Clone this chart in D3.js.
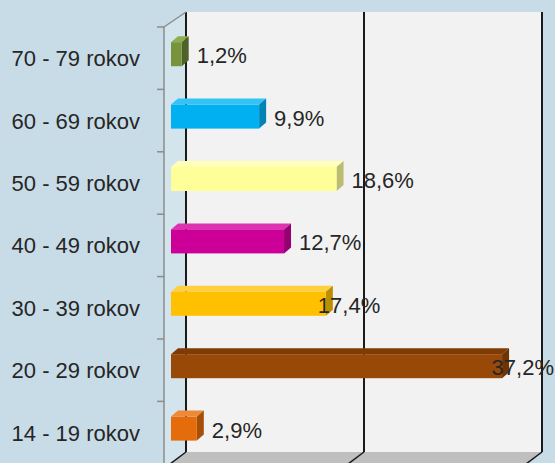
<!DOCTYPE html>
<html>
<head>
<meta charset="utf-8">
<script src="https://cdn.jsdelivr.net/npm/d3@7"></script>
<style>
  body { margin: 0; background: #c8dce7; }
  svg { display: block; font-family: "Liberation Sans", Arial, sans-serif; }
</style>
</head>
<body>
<svg id="chart" width="555" height="463"></svg>
<script>
// vekove kategorie (zhora nadol)
var categories = ["70 - 79 rokov", "60 - 69 rokov", "50 - 59 rokov", "40 - 49 rokov", "30 - 39 rokov", "20 - 29 rokov", "14 - 19 rokov"];
var values = [1.2, 9.9, 18.6, 12.7, 17.4, 37.2, 2.9];
var valueLabels = ["1,2%", "9,9%", "18,6%", "12,7%", "17,4%", "37,2%", "2,9%"];
var gridTicks = [0, 20, 40];

// farby stlpcov: predna, vrchna, bocna stena
var colors = [
  ["#77933c", "#8fae4c", "#4f6228"],
  ["#00b0f0", "#33c4f5", "#0083b3"],
  ["#ffff99", "#ffffb8", "#bcbc70"],
  ["#cc0099", "#dd33b0", "#960070"],
  ["#ffc000", "#ffcf40", "#bd8e00"],
  ["#984807", "#7e3b05", "#6f3404"],
  ["#e46c0a", "#ec8a3a", "#a84f07"]
];

// Excel posunul niektore popisky dolava
var labelNudge = { "30 - 39 rokov": -23 };

var svg = d3.select("#chart");

var frontX0 = 171,
    backX0 = 186,
    wallTop = 12,
    floorY = 452,
    axisX = 164,
    depthX = 7,
    depthY = 6;

var x = d3.scaleLinear()
          .domain([0, 40])
          .range([0, 356]);

var y = d3.scaleBand()
          .domain(categories)
          .range([27, 27 + 7 * 62.4]);

// zadna stena
svg.append("rect")
   .attr("x", backX0)
   .attr("y", wallTop)
   .attr("width", x(40))
   .attr("height", floorY - wallTop)
   .attr("fill", "#f2f2f2");

// lava stena
svg.append("path")
   .attr("d", "M" + axisX + "," + (wallTop + 15) + "L" + backX0 + "," + wallTop + "L" + backX0 + "," + floorY + "L" + axisX + "," + 470 + "Z")
   .attr("fill", "#d3e4ed");

// podlaha
svg.append("path")
   .attr("d", "M" + backX0 + "," + floorY + "L" + (backX0 + x(40)) + "," + floorY + "L" + (backX0 + x(40) - 22) + "," + 470 + "L" + (axisX) + "," + 470 + "Z")
   .attr("fill", "#bfbfbf");

// mriezka na zadnej stene a na podlahe
gridTicks.forEach(function(t) {
  var gx = backX0 + x(t);
  svg.append("line")
     .attr("x1", gx).attr("x2", gx)
     .attr("y1", wallTop).attr("y2", floorY)
     .attr("stroke", "#1a1a1a")
     .attr("stroke-width", 2);
  svg.append("line")
     .attr("x1", gx).attr("x2", gx - 16)
     .attr("y1", floorY).attr("y2", floorY + 12)
     .attr("stroke", "#1a1a1a")
     .attr("stroke-width", 1.5);
});

// os y
svg.append("line")
   .attr("x1", axisX).attr("x2", backX0)
   .attr("y1", wallTop + 15).attr("y2", wallTop)
   .attr("stroke", "#8c8c8c")
   .attr("stroke-width", 1.5);

svg.append("line")
   .attr("x1", axisX).attr("x2", axisX)
   .attr("y1", wallTop + 15).attr("y2", 463)
   .attr("stroke", "#8c8c8c")
   .attr("stroke-width", 1.5);

var tickYs = categories.map(function(c) { return y(c); });
svg.selectAll(".tick")
   .data(tickYs)
   .enter()
   .append("line")
   .attr("class", "tick")
   .attr("x1", axisX - 7).attr("x2", axisX)
   .attr("y1", function(d) { return d; })
   .attr("y2", function(d) { return d; })
   .attr("stroke", "#8c8c8c")
   .attr("stroke-width", 1.5);

// popisky kategorii
svg.selectAll(".cat")
   .data(categories)
   .enter()
   .append("text")
   .attr("class", "cat")
   .attr("x", 140)
   .attr("y", function(d) { return y(d) + y.bandwidth() / 2; })
   .attr("dy", "0.36em")
   .attr("text-anchor", "end")
   .attr("font-size", 22)
   .attr("fill", "#262626")
   .text(function(d) { return d; });

// stlpce
var barH = 24;
var bars = svg.selectAll(".bar")
              .data(categories)
              .enter()
              .append("g")
              .attr("class", "bar");

bars.each(function(c, i) {
  var g = d3.select(this);
  var top = y(c) + y.bandwidth() / 2 - 4 - barH / 2;
  var x1 = frontX0 + x(values[i]);
  // vrch
  g.append("path")
   .attr("d", "M" + frontX0 + "," + top + "L" + (frontX0 + depthX) + "," + (top - depthY) + "L" + (x1 + depthX) + "," + (top - depthY) + "L" + x1 + "," + top + "Z")
   .attr("fill", colors[i][1]);
  // bok
  g.append("path")
   .attr("d", "M" + x1 + "," + top + "L" + (x1 + depthX) + "," + (top - depthY) + "L" + (x1 + depthX) + "," + (top + barH - depthY) + "L" + x1 + "," + (top + barH) + "Z")
   .attr("fill", colors[i][2]);
  // predok
  g.append("rect")
   .attr("x", frontX0)
   .attr("y", top)
   .attr("width", x(values[i]))
   .attr("height", barH)
   .attr("fill", colors[i][0]);
});

// hodnoty
svg.selectAll(".val")
   .data(categories)
   .enter()
   .append("text")
   .attr("class", "val")
   .attr("y", function(d) { return y(d) + y.bandwidth() / 2 - 3; })
   .attr("dy", "0.36em")
   .attr("font-size", 22)
   .attr("fill", "#262626")
   .text(function(d, i) { return valueLabels[i]; })
   .attr("x", function(d, i) {
     var w = this.getComputedTextLength();
     var lx = frontX0 + x(values[i]) + depthX + 8 + (labelNudge[d] || 0);
     return Math.min(lx, 554 - w);
   });
</script>
</body>
</html>
